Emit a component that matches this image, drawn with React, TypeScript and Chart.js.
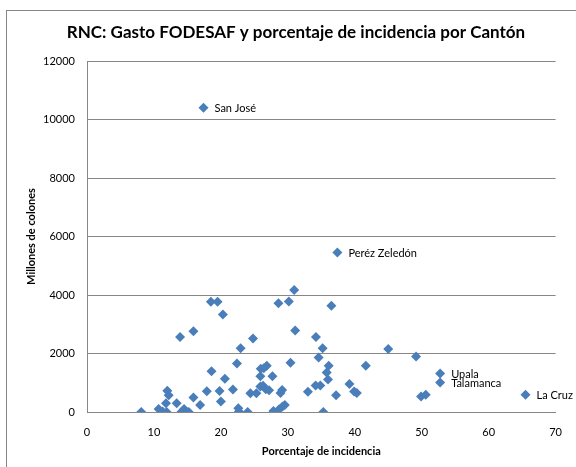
import React, { useEffect, useRef } from "react";
import { Chart, registerables } from "chart.js";

Chart.register(...registerables);

// Porcentaje de incidencia (x) y Gasto FODESAF en millones de colones (y), por cantón
const incidencia = [
  17.4, 37.4, 52.75, 52.75, 65.5,
  8.1, 10.7, 11.3, 11.8, 12.0, 12.2, 11.9, 13.4, 13.9, 14.1, 14.5, 14.3, 14.9, 15.2,
  15.9, 15.9, 16.9, 17.9, 18.5, 19.5, 20.3, 18.6, 19.8, 20.0, 20.6, 21.8, 22.4, 22.95,
  22.6, 22.7, 24.0, 24.4, 24.8, 25.3, 25.9, 25.95, 26.4, 26.85, 25.9, 26.3, 26.7, 27.2,
  27.7, 27.85, 28.6, 28.9, 29.15, 28.7, 29.2, 29.55, 30.15, 30.95, 31.1, 30.4, 33.0,
  34.2, 34.6, 34.15, 34.85, 35.2, 35.3, 36.5, 36.1, 35.8, 36.0, 37.2, 39.2, 39.9, 40.3,
  41.65, 45.0, 49.15, 49.9, 50.6,
];
const gasto = [
  10400, 5450, 1320, 1010, 590,
  0, 100, 20, 300, 730, 575, 0, 300, 2560, 0, 100, 30, 0, 0,
  2760, 500, 240, 710, 3770, 3770, 3330, 1390, 720, 360, 1140, 770, 1660, 2180,
  130, 20, 0, 645, 2510, 645, 1220, 1480, 1500, 1580, 870, 900, 780, 740,
  1220, 30, 3720, 650, 750, 90, 190, 240, 3780, 4170, 2790, 1680, 690,
  2560, 1860, 910, 910, 2180, 0, 3630, 1580, 1350, 1110, 570, 960, 700, 650,
  1580, 2150, 1900, 530, 590,
];
const nombres = ["San José", "Peréz Zeledón", "Upala", "Talamanca", "La Cruz"];

const titulo = "RNC: Gasto FODESAF y porcentaje de incidencia por Cantón";
const tituloX = "Porcentaje de incidencia";
const tituloY = "Millones de colones";
const xMin = 0, xMax = 70, xStep = 10;
const yMin = 0, yMax = 12000, yStep = 2000;

const FONT = "Lato, 'Open Sans', sans-serif";
const GRID = "#878787";
const BLUE = "#4a7ebb";

export default function App() {
  const ref = useRef<HTMLCanvasElement | null>(null);

  useEffect(() => {
    if (!ref.current) return;
    const puntos = incidencia.map((x, i) => ({ x, y: gasto[i] }));

    const frame = {
      id: "frame",
      afterDraw(chart: any) {
        const ctx = chart.ctx;
        ctx.save();
        ctx.strokeStyle = GRID;
        ctx.lineWidth = 1;
        ctx.strokeRect(6.5, 10.5, 600, 500);
        ctx.fillStyle = "#000";
        ctx.font = `bold 17px ${FONT}`;
        ctx.textAlign = "center";
        ctx.textBaseline = "middle";
        ctx.fillText(titulo, 296, 33);
        ctx.restore();
      },
    };

    const etiquetas = {
      id: "etiquetas",
      afterDatasetsDraw(chart: any) {
        const ctx = chart.ctx;
        const meta = chart.getDatasetMeta(0);
        ctx.save();
        ctx.fillStyle = "#000";
        ctx.font = `11px ${FONT}`;
        ctx.textAlign = "left";
        ctx.textBaseline = "middle";
        nombres.forEach((n, i) => {
          const el = meta.data[i];
          if (el && n) ctx.fillText(n, el.x + 11, el.y + 1);
        });
        ctx.restore();
      },
    };

    const chart = new Chart(ref.current, {
      type: "scatter",
      data: {
        datasets: [
          {
            data: puntos,
            pointStyle: "rectRot",
            pointRadius: 5,
            pointHoverRadius: 5,
            backgroundColor: BLUE,
            borderColor: BLUE,
            borderWidth: 0,
          },
        ],
      },
      options: {
        animation: false,
        responsive: true,
        maintainAspectRatio: false,
        layout: { padding: { left: 6, top: 61, right: 18, bottom: 0 } },
        plugins: {
          legend: { display: false },
          tooltip: { enabled: false },
          title: { display: false },
        },
        scales: {
          x: {
            type: "linear",
            min: xMin,
            max: xMax,
            ticks: {
              stepSize: xStep,
              color: "#000",
              font: { family: FONT, size: 11 },
              padding: 14,
              callback: (v: any) => String(v),
            },
            grid: { display: false, drawTicks: false },
            border: { display: true, color: GRID, width: 1 },
            title: {
              display: true,
              text: tituloX,
              color: "#000",
              font: { family: FONT, size: 11, weight: "bold" },
              padding: { top: 0, bottom: 9 },
            },
            afterFit(scale: any) {
              scale.height = 55;
            },
          },
          y: {
            type: "linear",
            min: yMin,
            max: yMax,
            ticks: {
              stepSize: yStep,
              color: "#000",
              font: { family: FONT, size: 11 },
              padding: 12,
              callback: (v: any) => String(v),
            },
            grid: { color: GRID, drawTicks: false },
            border: { display: true, color: GRID, width: 1 },
            title: {
              display: true,
              text: tituloY,
              color: "#000",
              font: { family: FONT, size: 11, weight: "bold" },
              padding: { top: 19, bottom: 0 },
            },
            afterFit(scale: any) {
              scale.width = 81;
            },
          },
        },
      },
      plugins: [frame, etiquetas],
    } as any);

    return () => chart.destroy();
  }, []);

  return (
    <div style={{ position: "absolute", left: 0, top: 0, width: 576, height: 467, background: "#fff" }}>
      <canvas ref={ref} />
    </div>
  );
}
